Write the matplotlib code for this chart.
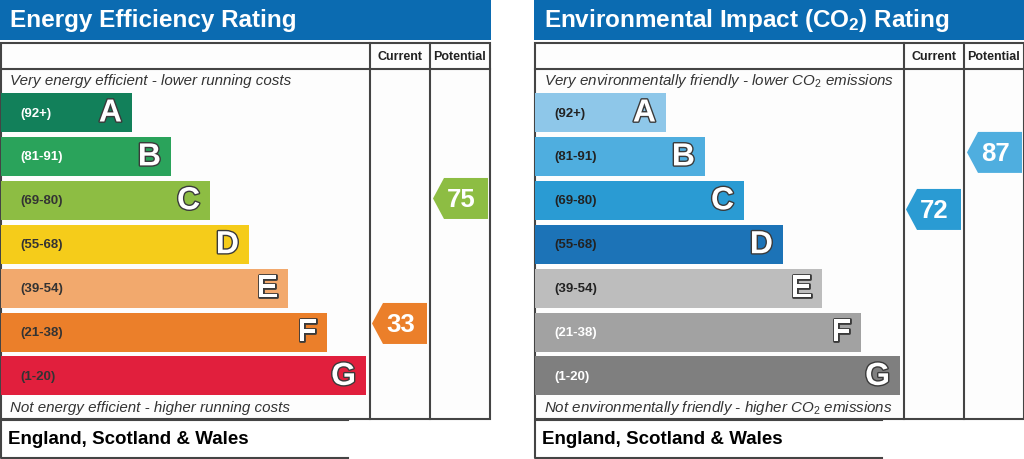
import matplotlib
matplotlib.use('Agg')
import matplotlib.pyplot as plt
from matplotlib.patches import Rectangle, Polygon
import matplotlib.patheffects as pe

plt.rcParams['font.family'] = ['Liberation Sans', 'DejaVu Sans']
plt.rcParams['mathtext.fontset'] = 'custom'
plt.rcParams['mathtext.rm'] = 'Liberation Sans'
plt.rcParams['mathtext.it'] = 'Liberation Sans:italic'
plt.rcParams['mathtext.bf'] = 'Liberation Sans:bold'

# data
bands = ['A', 'B', 'C', 'D', 'E', 'F', 'G']
band_ranges = ['(92+)', '(81-91)', '(69-80)', '(55-68)', '(39-54)', '(21-38)', '(1-20)']
band_lo = [92, 81, 69, 55, 39, 21, 1]
band_hi = [100, 91, 80, 68, 54, 38, 20]

energy_colors = ['#12805a', '#2aa35b', '#8dbd43', '#f5cc1a', '#f2a96d', '#eb7f2a', '#e11f3d']
energy_label_colors = ['white', 'white', '#333333', '#333333', '#333333', '#333333', '#333333']
energy_current = 33
energy_potential = 75

co2_colors = ['#8ec7e9', '#4faedf', '#2a9bd3', '#1c73b7', '#bdbdbd', '#a2a2a2', '#7f7f7f']
co2_label_colors = ['#222222', '#222222', '#222222', '#222222', '#222222', 'white', 'white']
co2_current = 72
co2_potential = 87

# layout (pixels)
pitch = 43.9
first_y = 113.5
bar_h = 39
edge = '#444444'


def band_index(v):
    for i in range(len(bands)):
        if v >= band_lo[i]:
            return i
    return len(bands) - 1


def marker_y(v):
    i = band_index(v)
    top = first_y + pitch * i - pitch / 2
    return top + (band_hi[i] - v + 0.5) / (band_hi[i] - band_lo[i] + 1) * pitch


def marker(ax, x_left, x_right, v, color):
    yc = marker_y(v)
    h = 41
    tip = 11
    pts = [(x_left, yc), (x_left + tip, yc - h / 2), (x_right, yc - h / 2),
           (x_right, yc + h / 2), (x_left + tip, yc + h / 2)]
    ax.add_patch(Polygon(pts, closed=True, facecolor=color, edgecolor='none', zorder=3))
    ax.text((x_left + x_right) / 2 + 1, yc + 1, str(v), color='white', fontsize=18.5,
            fontweight='bold', ha='center', va='center', zorder=4)


def panel(ax, x0, title, colors, label_colors, top_text, bottom_text, current, potential):
    w = 489
    ax.add_patch(Rectangle((x0, 0), w + 2, 41, facecolor='#0b6bb1', edgecolor='none'))
    ax.text(x0 + 10, 21, title, color='white', fontsize=17.5, fontweight='bold', va='center')

    ax.add_patch(Rectangle((x0 + 1, 44), w, 376, facecolor='#fdfdfd', edgecolor=edge, lw=1.5))
    ax.plot([x0 + 1, x0 + 1 + w], [70, 70], color=edge, lw=1.5)
    for cx in [x0 + 370, x0 + 430]:
        ax.plot([cx, cx], [44, 420], color=edge, lw=1.5)
    ax.text(x0 + 400, 57, 'Current', fontsize=9, fontweight='bold', ha='center', va='center', color='#222222')
    ax.text(x0 + 460, 57, 'Potential', fontsize=9, fontweight='bold', ha='center', va='center', color='#222222')

    ax.text(x0 + 10, 81, top_text, fontsize=10.9, style='italic', color='#333333', va='center')
    ax.text(x0 + 10, 408, bottom_text, fontsize=10.9, style='italic', color='#333333', va='center')

    ys = [first_y + pitch * i for i in range(len(bands))]
    widths = [131 + 39 * i for i in range(len(bands))]
    ax.barh(ys, widths, left=x0 + 1, height=bar_h, color=colors, zorder=2)
    for i in range(len(bands)):
        ax.text(x0 + 20, ys[i], band_ranges[i], fontsize=9.5, fontweight='bold',
                color=label_colors[i], va='center', zorder=3)
        t = ax.text(x0 + widths[i] - 9, ys[i] + 1, bands[i], fontsize=23, fontweight='bold',
                    color='white', ha='right', va='center', zorder=3)
        t.set_path_effects([pe.withStroke(linewidth=2, foreground='#3a3a3a')])

    marker(ax, x0 + 372, x0 + 427, current, colors[band_index(current)])
    marker(ax, x0 + 433, x0 + 488, potential, colors[band_index(potential)])

    ax.add_patch(Rectangle((x0 + 1, 421), 347, 38, facecolor='white', edgecolor='none'))
    ax.plot([x0 + 348, x0 + 1, x0 + 1, x0 + 348], [421, 421, 459, 459], color=edge, lw=1.5)
    ax.text(x0 + 8, 440, 'England, Scotland & Wales', fontsize=13.5, fontweight='bold',
            color='black', va='center')


fig = plt.figure(figsize=(10.24, 4.6), dpi=100)
ax = fig.add_axes([0, 0, 1, 1])
ax.set_xlim(0, 1024)
ax.set_ylim(460, 0)
ax.axis('off')

panel(ax, 0, 'Energy Efficiency Rating', energy_colors, energy_label_colors,
      'Very energy efficient - lower running costs',
      'Not energy efficient - higher running costs',
      energy_current, energy_potential)
panel(ax, 534, 'Environmental Impact (CO$\\mathbf{_2}$) Rating', co2_colors, co2_label_colors,
      'Very environmentally friendly - lower CO$_2$ emissions',
      'Not environmentally friendly - higher CO$_2$ emissions',
      co2_current, co2_potential)

fig.savefig('out.png', dpi=100)
